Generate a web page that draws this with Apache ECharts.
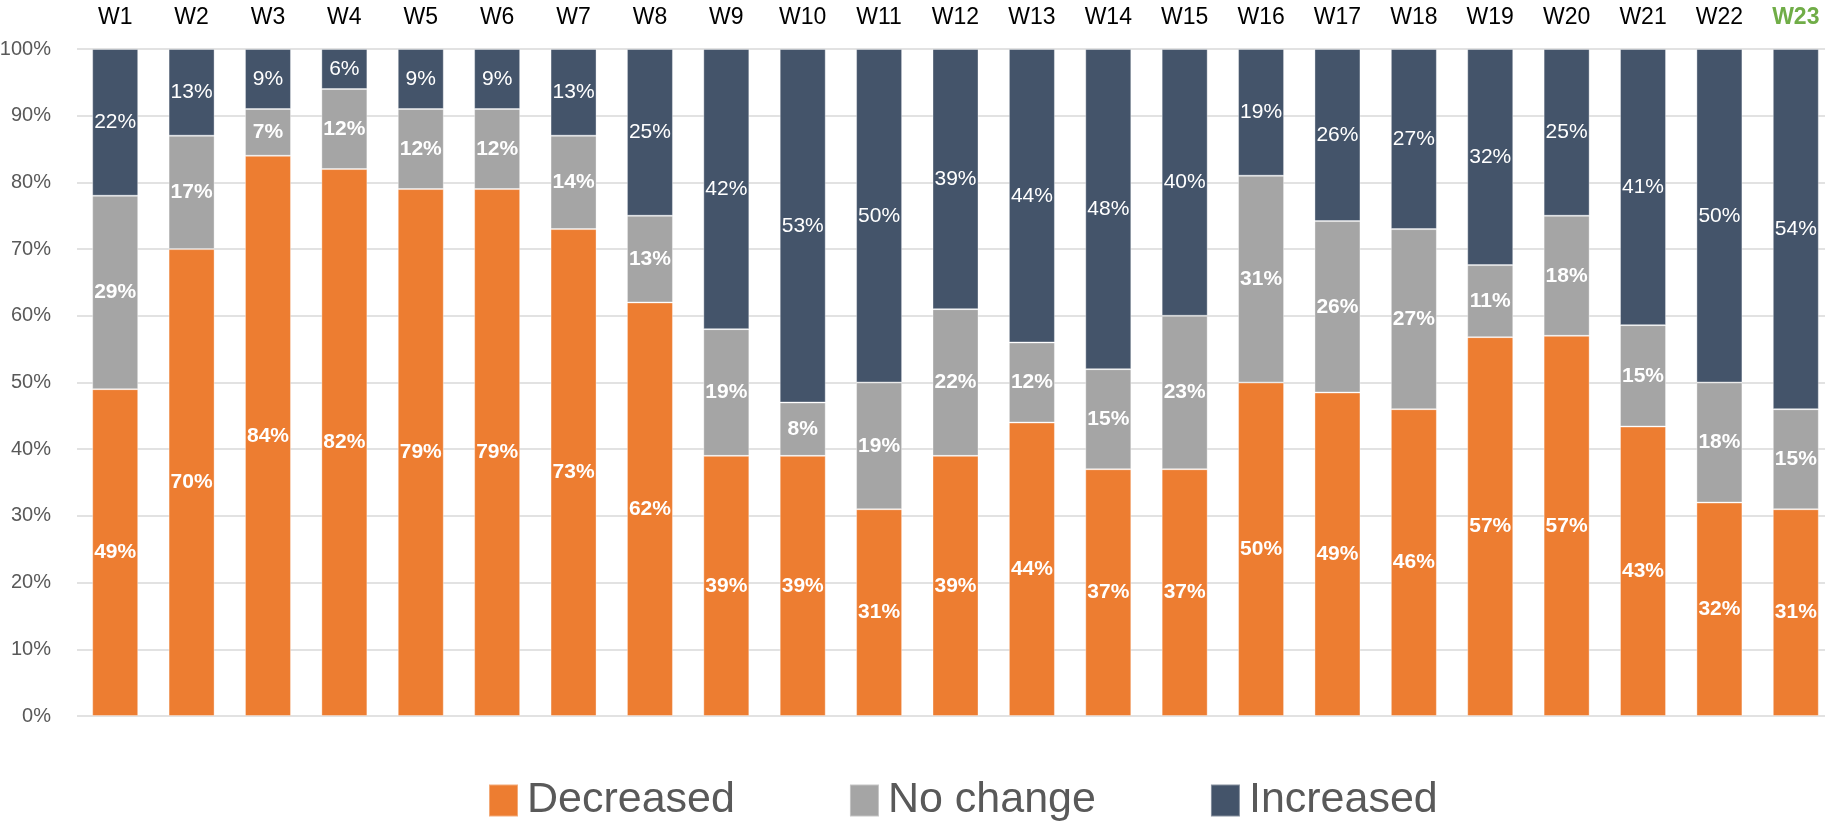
<!DOCTYPE html>
<html>
<head>
<meta charset="utf-8">
<script src="https://cdn.jsdelivr.net/npm/echarts@6/dist/echarts.min.js"></script>
<style>
  html, body { margin: 0; padding: 0; background: #fff; }
  #chart { width: 1825px; height: 824px; }
</style>
</head>
<body>
<div id="chart"></div>
<script>
const FONT = "'Liberation Sans', sans-serif"

const weeks = ['W1', 'W2', 'W3', 'W4', 'W5', 'W6', 'W7', 'W8', 'W9', 'W10', 'W11', 'W12',
  'W13', 'W14', 'W15', 'W16', 'W17', 'W18', 'W19', 'W20', 'W21', 'W22', 'W23']
const decreased = [49, 70, 84, 82, 79, 79, 73, 62, 39, 39, 31, 39, 44, 37, 37, 50, 48.5, 46, 56.8, 57, 43.4, 32, 31]
const noChange = [29, 17, 7, 12, 12, 12, 14, 13, 19, 8, 19, 22, 12, 15, 23, 31, 25.7, 27, 10.8, 18, 15.2, 18, 15]
const increased = [22, 13, 9, 6, 9, 9, 13, 25, 42, 53, 50, 39, 44, 48, 40, 19, 25.8, 27, 32.4, 25, 41.4, 50, 54]
const yTicks = [0, 10, 20, 30, 40, 50, 60, 70, 80, 90, 100]

/* colours only here, data set below */
const colors = { dec: '#ED7D31', none: '#A5A5A5', inc: '#44546A' }

function makeSeries (name, data, color, bold) {
  return {
    name: name,
    type: 'bar',
    stack: 'total',
    barWidth: 46,
    data: data,
    itemStyle: { color: color, borderColor: 'rgba(255,255,255,0.35)', borderWidth: 1 },
    label: {
      show: true,
      position: 'inside',
      color: '#fff',
      fontFamily: FONT,
      fontSize: 21,
      fontWeight: bold ? 'bold' : 'normal',
      formatter: p => Math.round(p.value) + '%'
    }
  }
}

const chart = echarts.init(document.getElementById('chart'))
chart.setOption({
  animation: false,
  textStyle: { fontFamily: FONT },
  grid: { left: 77, top: 49, width: 1757, height: 667, outerBoundsMode: 'none', containLabel: false },
  legend: {
    top: 774,
    left: 483,
    itemWidth: 29,
    itemHeight: 32,
    itemGap: 114,
    icon: 'rect',
    textStyle: { fontSize: 43, color: '#595959', fontFamily: FONT, padding: [0, 0, 0, 4] },
    data: ['Decreased', 'No change', 'Increased']
  },
  xAxis: {
    type: 'category',
    position: 'top',
    data: weeks,
    axisTick: { show: false },
    axisLine: { show: false },
    axisLabel: {
      interval: 0,
      margin: 20,
      fontSize: 23,
      color: '#000',
      formatter: (v, i) => i === weeks.length - 1 ? '{hl|' + v + '}' : v,
      rich: { hl: { fontSize: 23, color: '#70AD47', fontWeight: 'bold', fontFamily: FONT } }
    }
  },
  yAxis: {
    type: 'value',
    min: yTicks[0],
    max: yTicks[yTicks.length - 1],
    interval: 10,
    axisLine: { show: false },
    axisTick: { show: false },
    splitLine: { lineStyle: { color: '#D9D9D9', width: 1.5 } },
    axisLabel: { margin: 26, fontSize: 20, color: '#595959', formatter: '{value}%' }
  },
  series: [
    makeSeries('Decreased', decreased, colors.dec, true),
    makeSeries('No change', noChange, colors.none, true),
    makeSeries('Increased', increased, colors.inc, false)
  ]
})
</script>
</body>
</html>
